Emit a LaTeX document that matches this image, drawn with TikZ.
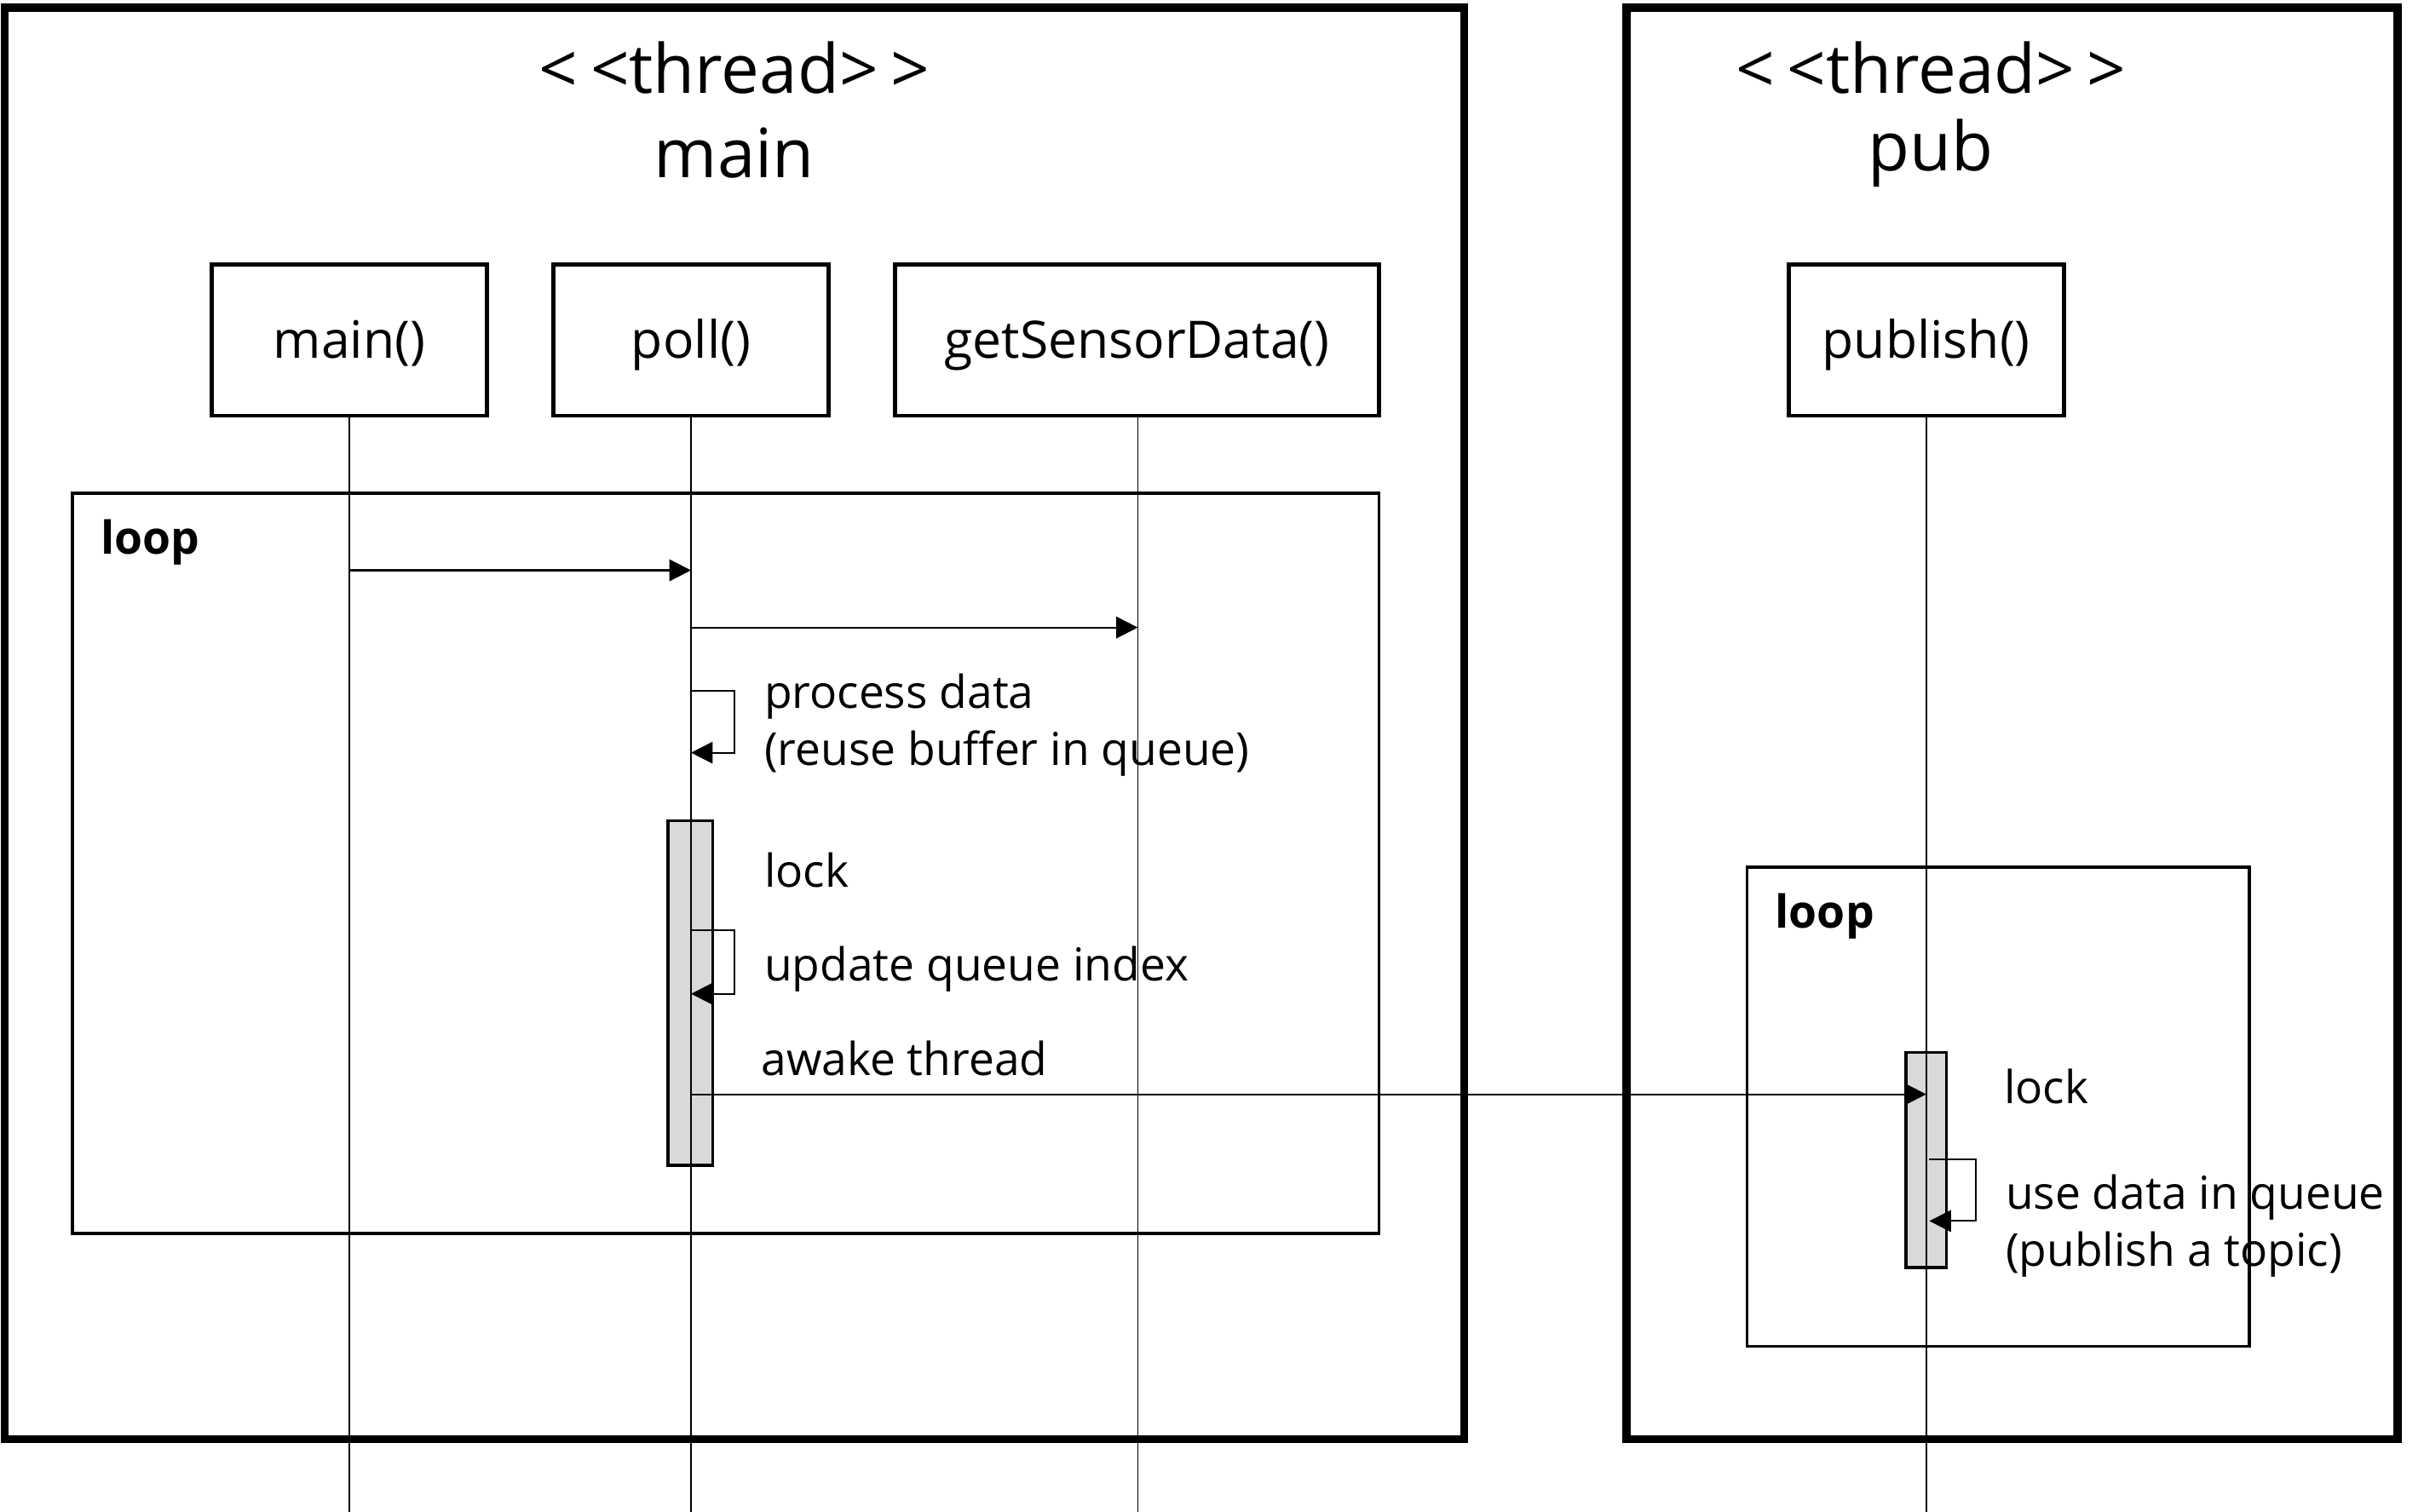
\documentclass[tikz,border=0pt]{standalone}
\usepackage{fontspec}
\setmainfont{Open Sans}
\usetikzlibrary{arrows.meta}
\begin{document}
\begin{tikzpicture}[x=0.5pt,y=-0.5pt,
  threadframe/.style={draw=black,line width=2.6pt},
  headbox/.style={draw=black,line width=1.3pt,fill=white,minimum height=49pt,inner sep=0pt,text height=14pt,text depth=2pt,font=\fontsize{16.7}{20}\selectfont},
  loopframe/.style={draw=black,line width=1pt},
  looplabel/.style={font=\fontsize{14.7}{18}\selectfont\bfseries,anchor=west,inner sep=0pt},
  lifeline/.style={draw=black,line width=0.5pt},
  actbar/.style={draw=black,line width=1pt,fill=black!15},
  msg/.style={draw=black,line width=0.6pt,-{Triangle[length=7pt,width=7pt]}},
  selfmsg/.style={draw=black,line width=0.5pt,-{Triangle[length=7pt,width=7pt]}},
  msgtext/.style={font=\fontsize{14.7}{18.5}\selectfont,anchor=west,align=left,inner sep=0pt},
  titletext/.style={font=\fontsize{22}{27}\selectfont,inner sep=0pt}
]
\useasboundingbox[fill=white] (0,0) rectangle (1568,978);

% thread frames
\draw[threadframe] (3,5) rectangle (947,931);
\draw[threadframe] (1052,5) rectangle (1551,931);
\node[titletext] (tmain1) at (475,44) {<\kern4pt<thread>\kern4pt>};
\node[titletext] (tmain2) at (475,99) {main};
\node[titletext] (tpub1) at (1249,44) {<\kern4pt<thread>\kern4pt>};
\node[titletext] (tpub2) at (1249,99) {pub};

% loop frames
\draw[loopframe] (47,319) rectangle (892,798);
\node[looplabel] (loop1) at (65,351) {loop};
\draw[loopframe] (1130,561) rectangle (1455,871);
\node[looplabel] (loop2) at (1148,593) {loop};

% activation bars
\draw[actbar] (432,531) rectangle (461,754);
\draw[actbar] (1233,681) rectangle (1259,820);

% lifeline heads
\node[headbox,minimum width=89pt] (mainh) at (226,220) {main()};
\node[headbox,minimum width=89pt] (pollh) at (447,220) {poll()};
\node[headbox,minimum width=156.5pt] (geth) at (735.5,220) {getSensorData()};
\node[headbox,minimum width=89pt] (pubh) at (1246,220) {publish()};

% lifeline ends
\coordinate (maine) at (226,978);
\coordinate (polle) at (447,978);
\coordinate (gete) at (736,978);
\coordinate (pube) at (1246,978);
\draw[lifeline] (mainh.south) -- (maine);
\draw[lifeline] (pollh.south) -- (polle);
\draw[lifeline] (geth.south -| gete) -- (gete);
\draw[lifeline] (pubh.south) -- (pube);

% messages
\coordinate (m1a) at (226,369);
\coordinate (m1b) at (447,369);
\draw[msg] (m1a) -- (m1b);
\coordinate (m2a) at (447,406);
\coordinate (m2b) at (736,406);
\draw[msg] (m2a) -- (m2b);

\coordinate (s1a) at (447,447);
\coordinate (s1b) at (447,487);
\draw[selfmsg] (s1a) -- (475,447) -- (475,487) -- (s1b);
\node[msgtext] (t1) at (494,469) {process data\\(reuse buffer in queue)};

\node[msgtext] (t2) at (494,563) {lock};
\coordinate (s2a) at (447,602);
\coordinate (s2b) at (447,643);
\draw[selfmsg] (s2a) -- (475,602) -- (475,643) -- (s2b);
\node[msgtext] (t3) at (494,627) {update queue index};

\node[msgtext] (t4) at (492,685) {awake thread};
\coordinate (m3a) at (447,708);
\coordinate (m3b) at (1246,708);
\draw[msg] (m3a) -- (m3b);

\node[msgtext] (t5) at (1296,703) {lock};
\coordinate (s3a) at (1248,750);
\coordinate (s3b) at (1248,790);
\draw[selfmsg] (s3a) -- (1278,750) -- (1278,790) -- (s3b);
\node[msgtext] (t6) at (1297,793) {use data in queue\\(publish a topic)};
\end{tikzpicture}
\end{document}
